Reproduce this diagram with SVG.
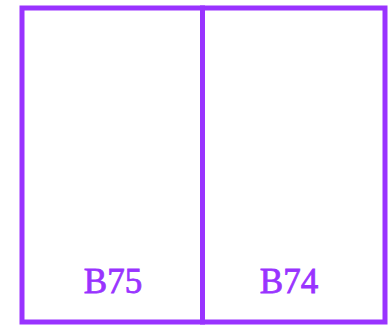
<svg xmlns="http://www.w3.org/2000/svg" width="392" height="325" viewBox="0 0 392 325">
<style>
.box{fill:#fff;stroke:#9933ff;stroke-width:5}
.lbl{font-family:"Liberation Serif",serif;font-size:35px;fill:#9933ff;stroke:#9933ff;stroke-width:0.8;text-anchor:middle}
</style>
<rect width="392" height="325" fill="#fff"/>
<g id="B75"><rect class="box" x="22" y="8" width="180.5" height="314"/><text class="lbl" x="113" y="293">B75</text></g>
<g id="B74"><rect class="box" x="202.5" y="8" width="182.5" height="314"/><text class="lbl" x="289" y="293">B74</text></g>
<g id="connectors"/>
</svg>
